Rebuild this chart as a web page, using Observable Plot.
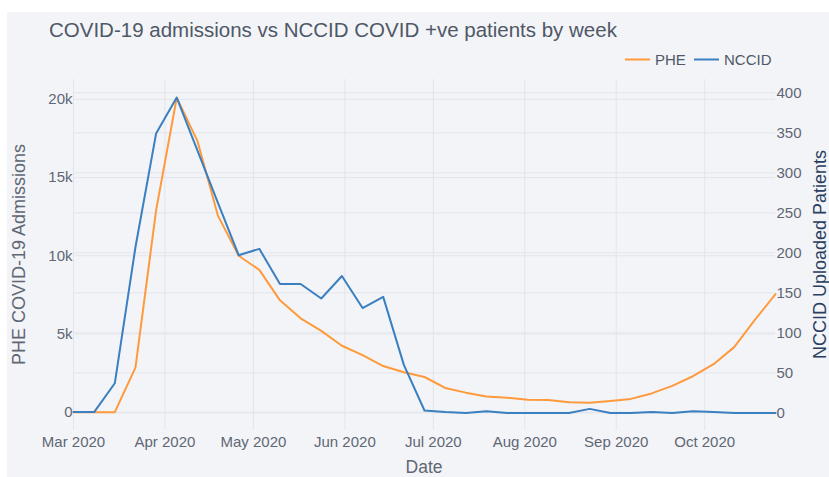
<!DOCTYPE html>
<html>
<head>
<meta charset="utf-8">
<script src="https://cdn.jsdelivr.net/npm/d3@7"></script>
<script src="https://cdn.jsdelivr.net/npm/@observablehq/plot@0.6"></script>
<style>
  html, body { margin: 0; padding: 0; background: #ffffff; }
  #wrap { position: relative; width: 829px; height: 477px; overflow: hidden; }
  #bg { position: absolute; left: 7px; top: 12px; right: 0; bottom: 0; background: #f3f4f8; }
  .layer { position: absolute; left: 0; top: 0; }
  .layer svg { background: transparent !important; }
</style>
</head>
<body>
<div id="wrap">
  <div id="bg"></div>
  <div id="l1" class="layer"></div>
  <div id="l2" class="layer"></div>
  <div id="l3" class="layer"></div>
  <svg id="ann" class="layer" width="829" height="477"></svg>
</div>
<script>
// ---- data (weekly) ----
const weekDates = [
  "2020-03-01","2020-03-08","2020-03-15","2020-03-22","2020-03-29",
  "2020-04-05","2020-04-12","2020-04-19","2020-04-26",
  "2020-05-03","2020-05-10","2020-05-17","2020-05-24","2020-05-31",
  "2020-06-07","2020-06-14","2020-06-21","2020-06-28",
  "2020-07-05","2020-07-12","2020-07-19","2020-07-26",
  "2020-08-02","2020-08-09","2020-08-16","2020-08-23","2020-08-30",
  "2020-09-06","2020-09-13","2020-09-20","2020-09-27",
  "2020-10-04","2020-10-11","2020-10-18","2020-10-25"
];
const pheAdmissions = [
  0, 0, 0, 2850, 12900,
  20100, 17350, 12550, 10000,
  9100, 7150, 6000, 5200, 4250,
  3650, 2950, 2550, 2250,
  1550, 1250, 1000, 930,
  800, 780, 640, 600, 720,
  850, 1200, 1680, 2300,
  3070, 4160, 5900, 7550
];
const nccidPatients = [
  1, 1, 37, 207, 349,
  394, 328, 262, 197,
  205, 161, 161, 143, 171,
  131, 145, 60, 3,
  1, 0, 2, 0,
  0, 0, 0, 5, 0,
  0, 1, 0, 2,
  1, 0, 0, 0
];
const seriesNames = ["PHE", "NCCID"];
const monthTicks = ["2020-03-01","2020-04-01","2020-05-01","2020-06-01","2020-07-01","2020-08-01","2020-09-01","2020-10-01"];
const leftTicks = [0, 5000, 10000, 15000, 20000];
const rightTicks = [0, 50, 100, 150, 200, 250, 300, 350, 400];
const titleText = "COVID-19 admissions vs NCCID COVID +ve patients by week";
const xTitle = "Date";
const leftTitle = "PHE COVID-19 Admissions";
const rightTitle = "NCCID Uploaded Patients";

// ---- styles ----
const ORANGE = "#ff9a3c";
const BLUE = "#3a7fc0";
const GRID = "#e2e5eb";
const TICK_COLOR = "#5f6774";
const FONT = "'Liberation Sans', Arial, sans-serif";

const rows = weekDates.map((d, i) => ({date: new Date(d), phe: pheAdmissions[i], nccid: nccidPatients[i]}));
const months = monthTicks.map(d => new Date(d));
const xDomain = [new Date(weekDates[0]), new Date(weekDates[weekDates.length - 1])];

const common = {
  width: 829, height: 477,
  marginLeft: 73, marginRight: 54, marginTop: 79, marginBottom: 47,
  style: {background: "transparent", fontFamily: FONT, fontSize: "15px", color: TICK_COLOR, overflow: "visible"}
};
const leftY = {domain: [-1170, 21270]};
const rightY = {domain: [-22, 416.6]};

// Layer 1: right-axis grid and tick labels
const p1 = Plot.plot({
  ...common,
  x: {type: "utc", domain: xDomain, axis: null},
  y: {...rightY},
  marks: [
    Plot.gridY(rightTicks, {stroke: GRID, strokeOpacity: 1, strokeWidth: 1}),
    Plot.axisY(rightTicks, {anchor: "right", tickSize: 0, tickPadding: 1, label: null, tickFormat: d => String(d)})
  ]
});
document.getElementById("l1").appendChild(p1);

// Layer 2: left axis, x axis, grids, PHE line
const p2 = Plot.plot({
  ...common,
  x: {type: "utc", domain: xDomain},
  y: {...leftY},
  marks: [
    Plot.gridX(months, {stroke: GRID, strokeOpacity: 1, strokeWidth: 1}),
    Plot.gridY(leftTicks, {stroke: GRID, strokeOpacity: 1, strokeWidth: 1}),
    Plot.axisX(months, {tickSize: 0, tickPadding: 6, label: null, tickFormat: d3.utcFormat("%b %Y")}),
    Plot.axisY(leftTicks, {anchor: "left", tickSize: 0, tickPadding: 1, label: null, tickFormat: d => d === 0 ? "0" : (d / 1000) + "k"}),
    Plot.line(rows, {x: "date", y: "phe", stroke: ORANGE, strokeWidth: 2})
  ]
});
document.getElementById("l2").appendChild(p2);

// Layer 3: NCCID line on right scale
const p3 = Plot.plot({
  ...common,
  x: {type: "utc", domain: xDomain, axis: null},
  y: {...rightY, axis: null},
  marks: [
    Plot.line(rows, {x: "date", y: "nccid", stroke: BLUE, strokeWidth: 2})
  ]
});
document.getElementById("l3").appendChild(p3);

// Annotations: title, legend, axis titles
const ann = d3.select("#ann").attr("font-family", FONT);
ann.append("text").attr("x", 49).attr("y", 37).attr("font-size", 20.5).attr("fill", "#4f5866").text(titleText);

const legendItems = [
  {name: seriesNames[0], color: ORANGE, x: 625},
  {name: seriesNames[1], color: BLUE, x: 694}
];
legendItems.forEach(it => {
  ann.append("line").attr("x1", it.x).attr("x2", it.x + 25).attr("y1", 59.5).attr("y2", 59.5)
    .attr("stroke", it.color).attr("stroke-width", 2);
  ann.append("text").attr("x", it.x + 30).attr("y", 65).attr("font-size", 15).attr("fill", "#4f5866").text(it.name);
});

ann.append("text").attr("x", 424).attr("y", 472.5).attr("text-anchor", "middle")
  .attr("font-size", 17.5).attr("fill", TICK_COLOR).text(xTitle);
ann.append("text").attr("transform", "translate(24.5,254.5) rotate(-90)").attr("text-anchor", "middle")
  .attr("font-size", 18).attr("fill", TICK_COLOR).text(leftTitle);
ann.append("text").attr("transform", "translate(825.5,254.5) rotate(-90)").attr("text-anchor", "middle")
  .attr("font-size", 18).attr("fill", "#2a3f5f").text(rightTitle);
</script>
</body>
</html>
